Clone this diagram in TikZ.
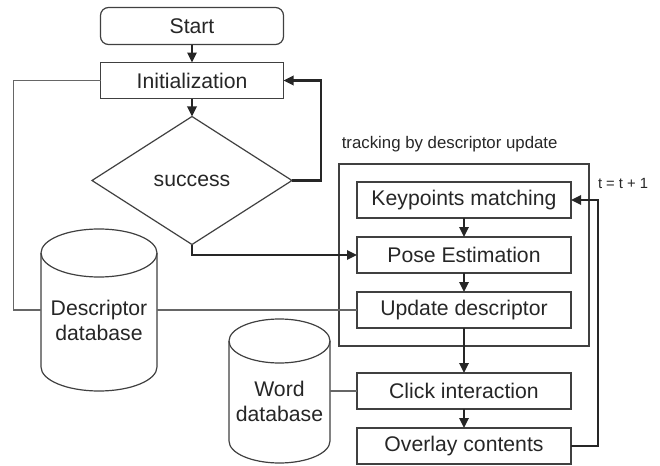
\documentclass[tikz,border=0pt]{standalone}
\usepackage{fontspec}
\setmainfont{Liberation Sans}
\usetikzlibrary{positioning,shapes.geometric,arrows.meta,fit,backgrounds}

% two-line label of a database, set a little below the body's centre
\newcommand{\dblabel}[1]{\raisebox{-6.5pt}[\height][\depth]{\begin{tabular}{@{}c@{}}#1\end{tabular}}}

\begin{document}
\begin{tikzpicture}[x=0.5pt,y=-0.5pt,
        box/.style={draw=black!75,line width=0.6pt,minimum height=18pt,inner sep=0pt,outer sep=0pt,
            font=\fontsize{10.6}{12.5}\selectfont,text=black!85},
        wide/.style={box,minimum width=107pt},
        db/.style={inner sep=0pt,outer sep=0pt,font=\fontsize{10.6}{12.5}\selectfont,text=black!85},
        dbline/.style={draw=black!75,line width=0.6pt},
        flow/.style={line width=1.3pt,draw=black!85,-{Triangle[length=5pt,width=4.6pt]}},
        link/.style={line width=0.6pt,draw=black!60}]
    \useasboundingbox (0,0) rectangle (660,466);

    \node[box,rounded corners=4pt,minimum width=91.5pt,minimum height=18.5pt] (Start) at (192,26) {Start};
    \node[box,minimum width=91.5pt,below=9pt of Start] (Init) {Initialization};
    \node[box,diamond,aspect=1.56,minimum width=100pt,minimum height=64pt,below=9pt of Init] (Succ) {success};

    \node[wide] (Kp) at (464,200) {Keypoints matching};
    \node[wide,below=9.5pt of Kp] (Pose) {Pose Estimation};
    \node[wide,below=9.5pt of Pose] (Upd) {Update descriptor};
    \node[wide,below=22.5pt of Upd] (Click) {Click interaction};
    \node[wide,below=9.5pt of Click] (Ovl) {Overlay contents};

    \node[draw=black!75,line width=0.6pt,fit=(Kp)(Pose)(Upd),inner sep=9pt] (Trk) {};
    \node[anchor=base west,inner sep=0pt,font=\fontsize{8.4}{10}\selectfont,text=black!85]
        (TrkLbl) at ([xshift=1.5pt,yshift=7.5pt]Trk.north west) {tracking by descriptor update};
    \node[anchor=base west,inner sep=0pt,font=\fontsize{7.4}{9}\selectfont,text=black!85]
        (Step) at ([xshift=4pt,yshift=-12.5pt]Trk.north east) {t = t + 1};

    % databases: the node is the body, the caps are drawn round it
    \node[db,minimum width=58pt,minimum height=57pt] (Ddb) at (99,310) {\dblabel{Descriptor\\database}};
    \node[db,minimum width=50.5pt,minimum height=50pt] (Wdb) at (279.5,391) {\dblabel{Word\\database}};
    \begin{scope}[on background layer]
        \filldraw[dbline,fill=white] (Ddb.north west) -- (Ddb.south west)
            arc[start angle=180,end angle=360,x radius=29pt,y radius=12pt] -- (Ddb.north east)
            arc[start angle=0,end angle=180,x radius=29pt,y radius=12pt] -- cycle;
        \draw[dbline] (Ddb.north west) arc[start angle=180,end angle=360,x radius=29pt,y radius=12pt];

        \filldraw[dbline,fill=white] (Wdb.north west) -- (Wdb.south west)
            arc[start angle=180,end angle=360,x radius=25.25pt,y radius=11pt] -- (Wdb.north east)
            arc[start angle=0,end angle=180,x radius=25.25pt,y radius=11pt] -- cycle;
        \draw[dbline] (Wdb.north west) arc[start angle=180,end angle=360,x radius=25.25pt,y radius=11pt];
    \end{scope}

    % database links
    \coordinate[left=43.5pt of Init.west] (Lft);
    \draw[link] (Init.west) -- (Lft) |- (Ddb.west);
    \draw[link] (Ddb.east) -- (Upd.west);
    \draw[link] (Wdb.east) -- (Click.west);

    % main flow
    \draw[flow] (Start) -- (Init);
    \draw[flow] (Init) -- (Succ);
    \coordinate[right=14.5pt of Succ.east] (Loop);
    \draw[flow] (Succ.east) -- (Loop) |- (Init.east);
    \draw[flow] (Succ.south) |- (Pose.west);

    \draw[flow] (Kp) -- (Pose);
    \draw[flow] (Pose) -- (Upd);
    \draw[flow] (Upd) -- (Click);
    \draw[flow] (Click) -- (Ovl);
    \coordinate[right=13.5pt of Ovl.east] (Back);
    \draw[flow] (Ovl.east) -- (Back) |- (Kp.east);
\end{tikzpicture}
\end{document}
